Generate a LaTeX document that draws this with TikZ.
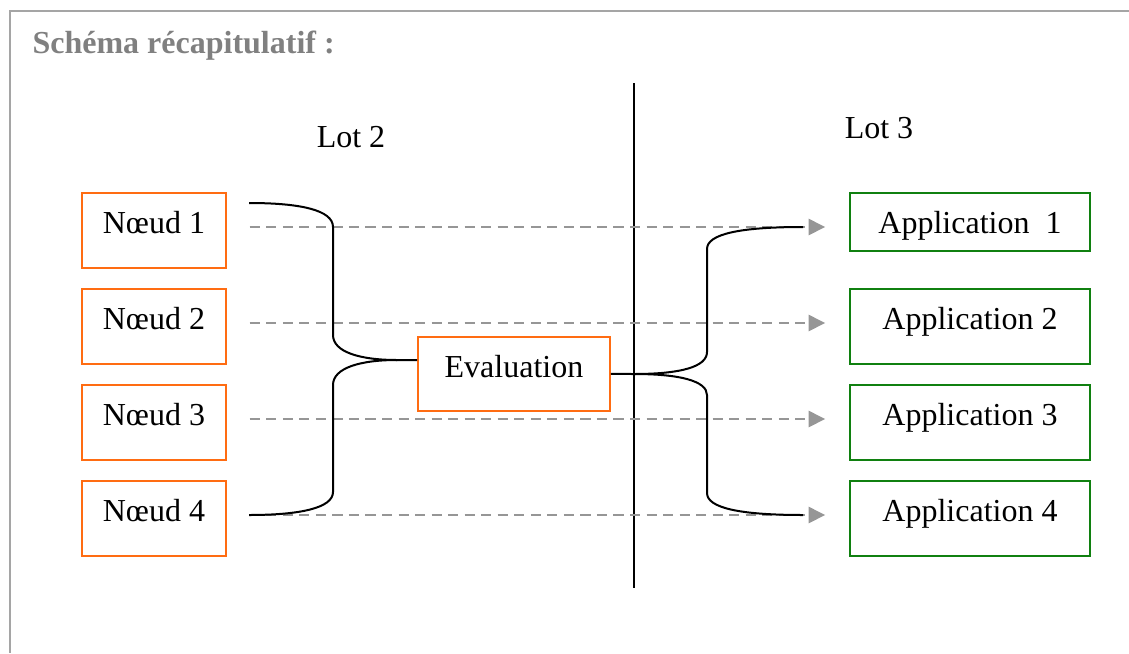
\documentclass[tikz,border=0pt]{standalone}
\usepackage{fontspec}
\setmainfont{Liberation Serif}
\usetikzlibrary{arrows.meta}
\definecolor{boxOrange}{RGB}{255,108,18}
\definecolor{boxGreen}{RGB}{16,128,16}
\definecolor{flowGray}{RGB}{150,150,150}
\definecolor{frameGray}{RGB}{165,165,165}
\definecolor{titleGray}{RGB}{128,128,128}

\begin{document}
\begin{tikzpicture}[
    x=0.375pt, y=-0.375pt,
    every node/.style={font=\fontsize{12}{14}\selectfont},
    nbox/.style={
        rectangle, draw=boxOrange, line width=0.6pt, inner sep=0pt, anchor=base,
        minimum width=54pt, text height=15pt, text depth=13.1pt
    },
    abox/.style={nbox, draw=boxGreen, minimum width=90pt},
    flow/.style={-{Triangle[length=6.2pt, width=6pt]}, dash pattern=on 3.8pt off 2.4pt,
        line width=0.9pt, draw=flowGray},
    brace/.style={line width=0.75pt, draw=black}
]
\useasboundingbox (0,0) rectangle (1129,653);

% --- Frame and title ------------------------------------------------------
\draw[frameGray, line width=0.75pt] (1129,11) -- (10,11) -- (10,653);
\node[anchor=base west, inner sep=0pt, text=titleGray,
      font=\fontsize{12}{14}\selectfont\bfseries] (title) at (32,53) {Schéma récapitulatif :};

% --- Lots and separator ---------------------------------------------------
\node[anchor=base] (lot2) at (351,147) {Lot 2};
\node[anchor=base] (lot3) at (879,138) {Lot 3};
\coordinate (sepTop) at (634,83);
\coordinate (sepBot) at (634,588);
\draw[line width=0.75pt] (sepTop) -- (sepBot);

% --- Boxes ----------------------------------------------------------------
\foreach \i/\y in {1/233,2/329,3/425,4/521}
    \node[nbox] (n\i) at (154,\y) {Nœud \i};
\node[nbox, minimum width=72pt, text depth=12.7pt] (eval) at (514,377) {Evaluation};
\node[abox, text depth=6.7pt] (app1) at (970,233) {Application\ \ 1};
\foreach \i/\y in {2/329,3/425,4/521}
    \node[abox] (app\i) at (970,\y) {Application \i};

% --- Dashed flows ---------------------------------------------------------
\foreach \i in {1,...,4}
    \draw[flow, shorten <=8.6pt, shorten >=9pt] ([yshift=1.3pt]n\i.east) -- ([yshift=1.3pt]n\i.east -| app\i.west);

% --- Braces ---------------------------------------------------------------
% left: gathers the nodes into the evaluation
\coordinate (ltip) at ([yshift=5.2pt]eval.west);
\draw[brace] (ltip) -- (397,360) .. controls (360,360) and (333,352) .. (333,335)
    -- (333,227) .. controls (333,210) and (300,203) .. (249,203);
\draw[brace] (397,360) .. controls (360,360) and (333,368) .. (333,385)
    -- (333,492) .. controls (333,508) and (300,515) .. (249,515);
% right: spreads the evaluation to the applications
\coordinate (rtip) at (634,374);
\draw[brace] (eval.east) -- (rtip) .. controls (680,374) and (707,367) .. (707,352)
    -- (707,249) .. controls (707,234) and (740,227) .. (803,227);
\draw[brace] (rtip) .. controls (680,374) and (707,381) .. (707,395)
    -- (707,493) .. controls (707,508) and (740,515) .. (803,515);

\end{tikzpicture}
\end{document}
